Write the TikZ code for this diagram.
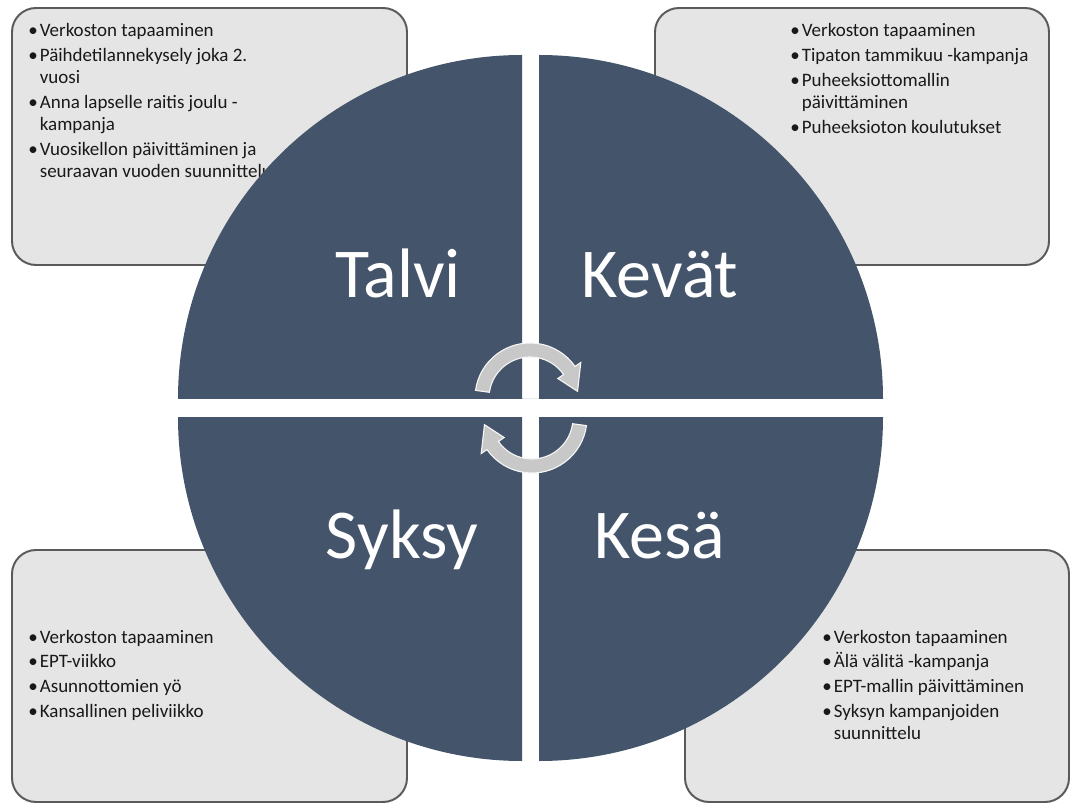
\documentclass[tikz,border=0pt]{standalone}
\usepackage{fontspec}
\setmainfont{Carlito}
\usepackage{tikz}
\usetikzlibrary{backgrounds}
\definecolor{kvartaali}{HTML}{44546A}
\definecolor{laatikko}{HTML}{E5E5E5}
\definecolor{reuna}{HTML}{5A5A5A}
\definecolor{nuoli}{HTML}{C8C8C8}
\newcommand{\R}{344}
\newcommand{\lista}[1]{\begin{tabular}[t]{@{}l@{\hspace{1.5pt}}l@{}}#1\end{tabular}}

\begin{document}
\begin{tikzpicture}[x=0.025cm,y=0.025cm,
  box/.style={fill=laatikko,draw=reuna,line width=1.4pt,rounded corners=0.6cm},
  body/.style={anchor=base west,inner sep=0pt,text=black!90,font=\fontsize{13.5}{15.6}\selectfont},
  season/.style={anchor=base,inner sep=0pt,text=white,font=\fontsize{49.8}{55}\selectfont},
  pfeil/.style={fill=nuoli,draw=white!92!gray,line width=0.8pt}]
\useasboundingbox (0,0) rectangle (1073,805);
%laatikot
\draw[box] (12,540) rectangle (407,797);
\draw[box] (655,540) rectangle (1049,797);
\draw[box] (12,3) rectangle (407,255);
\draw[box] (685,3) rectangle (1069,255);
%tekstit
\node[body] (tl) at (28,768) {\lista{%
  \textbullet & Verkoston tapaaminen\\[2pt]
  \textbullet & Päihdetilannekysely joka 2.\\
              & vuosi\\[2pt]
  \textbullet & Anna lapselle raitis joulu -\\
              & kampanja\\[2pt]
  \textbullet & Vuosikellon päivittäminen ja\\
              & seuraavan vuoden suunnittelu}};
\node[body] (tr) at (790,768) {\lista{%
  \textbullet & Verkoston tapaaminen\\[2pt]
  \textbullet & Tipaton tammikuu -kampanja\\[2pt]
  \textbullet & Puheeksiottomallin\\
              & päivittäminen\\[2pt]
  \textbullet & Puheeksioton koulutukset}};
\node[body] (bl) at (28,162) {\lista{%
  \textbullet & Verkoston tapaaminen\\[2pt]
  \textbullet & EPT-viikko\\[2pt]
  \textbullet & Asunnottomien yö\\[2pt]
  \textbullet & Kansallinen peliviikko}};
\node[body] (br) at (822,162) {\lista{%
  \textbullet & Verkoston tapaaminen\\[2pt]
  \textbullet & Älä välitä -kampanja\\[2pt]
  \textbullet & EPT-mallin päivittäminen\\[2pt]
  \textbullet & Syksyn kampanjoiden\\
              & suunnittelu}};
%ympyrän neljännekset
\fill[kvartaali] (522,406) -- ++(\R,0) ++(-\R,0) -- ++(0,\R) arc[start angle=90, end angle=180, radius=\R] -- cycle;
\fill[kvartaali] (539,406) -- ++(\R,0) arc[start angle=0, end angle=90, radius=\R] -- cycle;
\fill[kvartaali] (522,388) -- ++(-\R,0) arc[start angle=180, end angle=270, radius=\R] -- cycle;
\fill[kvartaali] (539,388) -- ++(0,-\R) arc[start angle=270, end angle=360, radius=\R] -- cycle;
%vuodenajat
\node[season] (talvi) at (398,507) {Talvi};
\node[season] (kevat) at (660,507) {Kevät};
\node[season] (syksy) at (402,247) {Syksy};
\node[season] (kesa) at (660,247) {Kesä};
%nuolet
\draw[pfeil, shift={(530,407)}] (172:55) arc[start angle=172, end angle=35, radius=55]
  -- (35:62) -- (8:48) -- (35:34) -- (35:41) arc[start angle=35, end angle=172, radius=41] -- cycle;
\draw[pfeil, shift={(532,387)}] (352:55) arc[start angle=352, end angle=215, radius=55]
  -- (215:62) -- (188:48) -- (215:34) -- (215:41) arc[start angle=215, end angle=352, radius=41] -- cycle;
\end{tikzpicture}
\end{document}
